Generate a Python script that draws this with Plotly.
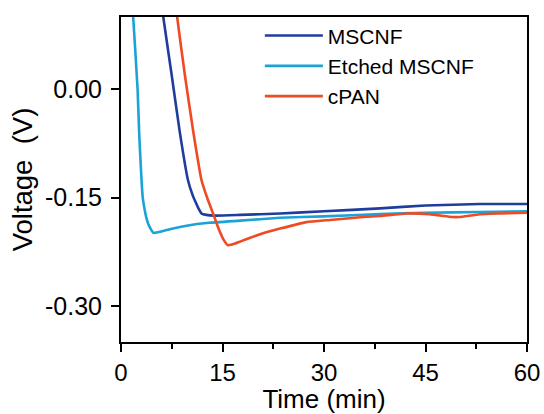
import plotly.graph_objects as go

# Open-circuit voltage curves (V) against time (min)
mscnf_t = [5.9, 6.25, 7.5, 8.7, 9.9, 10.6, 11.1, 11.5, 11.9, 12.6, 14.0, 17.6, 23.5, 30.0, 38.3, 45.0, 53.0, 60.0]
mscnf_v = [0.13, 0.10, 0.019, -0.060, -0.126, -0.147, -0.158, -0.166, -0.172, -0.174, -0.175, -0.174, -0.172, -0.169, -0.165, -0.161, -0.159, -0.159]

etched_t = [1.55, 1.8, 2.45, 2.7, 3.0, 3.2, 3.5, 3.7, 4.0, 4.3, 4.8, 5.5, 7.2, 9.7, 13.0, 17.6, 23.5, 30.0, 38.3, 45.0, 53.0, 60.0]
etched_v = [0.13, 0.10, 0.0, -0.064, -0.120, -0.149, -0.167, -0.176, -0.186, -0.192, -0.199, -0.198, -0.194, -0.189, -0.185, -0.182, -0.178, -0.176, -0.173, -0.171, -0.170, -0.169]

cpan_t = [8.0, 8.3, 9.45, 10.7, 11.9, 12.8, 13.6, 14.5, 15.2, 15.8, 16.4, 17.6, 19.0, 21.0, 23.5, 27.4, 30.9, 35.8, 38.3, 42.2, 45.6, 49.0, 50.0, 53.0, 56.0, 60.0]
cpan_v = [0.13, 0.10, 0.019, -0.060, -0.126, -0.152, -0.172, -0.195, -0.209, -0.216, -0.215, -0.211, -0.206, -0.1995, -0.193, -0.184, -0.181, -0.177, -0.1755, -0.172, -0.173, -0.177, -0.177, -0.173, -0.172, -0.171]

y_ticks = [-0.30, -0.15, 0.00]
y_tick_text = ["-0.30", "-0.15", "0.00"]
x_ticks = [0, 15, 30, 45, 60]

FONT = "Liberation Sans, Arial, sans-serif"

fig = go.Figure()
for t, v, name, color in [
    (mscnf_t, mscnf_v, "MSCNF", "#1f3d9c"),
    (etched_t, etched_v, "Etched MSCNF", "#1ba3d8"),
    (cpan_t, cpan_v, "cPAN", "#ee4b25"),
]:
    fig.add_trace(go.Scatter(x=t, y=v, mode="lines", name=name,
                             line=dict(color=color, width=2.6, shape="spline", smoothing=0.4)))

fig.update_layout(
    width=544, height=414,
    margin=dict(l=121, r=17, t=17, b=72),
    paper_bgcolor="white", plot_bgcolor="white",
    font=dict(family=FONT, color="black", size=24),
    showlegend=True,
    legend=dict(x=0.342, y=1.005, xanchor="left", yanchor="top",
                bgcolor="rgba(0,0,0,0)", font=dict(size=21, family=FONT),
                itemwidth=58, tracegroupgap=0),
)

fig.update_xaxes(
    range=[0, 60], tickvals=x_ticks, ticks="outside", ticklen=8, tickwidth=2,
    tickcolor="black", showline=True, linecolor="black", linewidth=2, mirror=True,
    showgrid=False, zeroline=False, tickfont=dict(size=24), automargin=False,
    minor=dict(dtick=7.5, tick0=0, ticks="outside", ticklen=5, tickwidth=2, tickcolor="black"),
    title=dict(text="Time (min)", font=dict(size=26), standoff=7),
)
fig.update_yaxes(
    range=[-0.35, 0.10], tickvals=y_ticks, ticktext=y_tick_text, ticks="outside", ticklen=8,
    tickwidth=2, tickcolor="black", showline=True, linecolor="black", linewidth=2,
    mirror=True, showgrid=False, zeroline=False, tickfont=dict(size=25),
    ticklabelstandoff=4, automargin=False,
    title=dict(text="Voltage  (V)", font=dict(size=27.5), standoff=4),
)

fig.write_html("out.html")
